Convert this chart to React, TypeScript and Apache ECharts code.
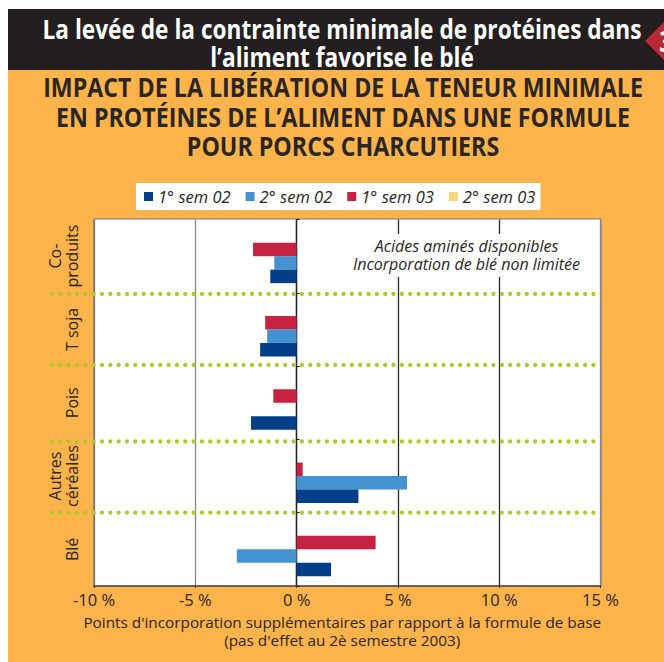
import React, { useEffect, useRef } from "react";
import * as echarts from "echarts";

const categories = ["Blé", "Autres\ncéréales", "Pois", "T soja", "Co-\nproduits"];
const sem1_02 = [1.7, 3.05, -2.25, -1.8, -1.3];
const sem2_02 = [-2.95, 5.45, 0, -1.45, -1.1];
const sem1_03 = [3.9, 0.3, -1.15, -1.55, -2.15];
const sem2_03 = [0, 0, 0, 0, 0];
const seriesNames = ["1° sem 02", "2° sem 02", "1° sem 03", "2° sem 03"];
const seriesColors = ["#023f88", "#4393d0", "#c72241", "#fdd67c"];
const separatorsY = [294, 365, 441.5, 512.7];
const headerLines = ["La levée de la contrainte minimale de protéines dans", "l’aliment favorise le blé"];
const titleLines = [
  "IMPACT DE LA LIBÉRATION DE LA TENEUR MINIMALE",
  "EN PROTÉINES DE L’ALIMENT DANS UNE FORMULE",
  "POUR PORCS CHARCUTIERS",
];
const noteLines = ["Acides aminés disponibles", "Incorporation de blé non limitée"];

const BODY = "'Open Sans', sans-serif";
const INK = "#2a2624";

export default function App() {
  const ref = useRef<HTMLDivElement>(null);
  useEffect(() => {
    const chart = echarts.init(ref.current!, undefined, { renderer: "svg" });
    const values = [sem1_02, sem2_02, sem1_03, sem2_03];
    chart.setOption({
      animation: false,
      backgroundColor: "#ffffff",
      textStyle: { fontFamily: BODY },
      legend: {
        top: 183,
        left: 136,
        padding: [5, 5, 5, 8],
        backgroundColor: "#ffffff",
        itemWidth: 9,
        itemHeight: 9,
        itemGap: 15,
        icon: "rect",
        data: seriesNames,
        textStyle: { fontFamily: BODY, fontStyle: "italic", fontSize: 16.5, color: INK },
      },
      grid: {
        left: 94,
        top: 219.5,
        width: 506.5,
        height: 366.5,
        show: true,
        backgroundColor: "#ffffff",
        borderWidth: 0,
      },
      xAxis: {
        type: "value",
        min: -10,
        max: 15,
        interval: 5,
        position: "bottom",
        axisLine: { onZero: false, show: true, lineStyle: { color: "#3a3a3a", width: 1.5 } },
        axisTick: { show: true, length: 2, lineStyle: { color: "#3a3a3a" } },
        axisLabel: { formatter: "{value} %", fontSize: 16.5, color: INK, margin: 5, fontFamily: BODY, showMinLabel: true, showMaxLabel: true },
        splitLine: { show: true, lineStyle: { width: 1.3, color: ["#777", "#888", "#222", "#2a2a2a", "#2a2a2a", "#888"] } },
        name: "Points d'incorporation supplémentaires par rapport à la formule de base\n(pas d'effet au 2è semestre 2003)",
        nameLocation: "middle",
        nameGap: 27,
        nameTextStyle: { fontSize: 15.3, lineHeight: 18, color: INK, fontFamily: BODY, verticalAlign: "top", padding: [0, 10, 0, 0] },
      },
      yAxis: [
        {
          type: "category",
          data: categories,
          position: "left",
          axisLine: { onZero: false, show: true, lineStyle: { color: "#777", width: 1.5 } },
          axisTick: { show: false },
          axisLabel: { rotate: 90, margin: 14, fontSize: 16, lineHeight: 17, color: INK, fontFamily: BODY, interval: 0 },
          splitLine: { show: false },
        },
        {
          type: "category",
          data: categories,
          axisLine: { onZero: true, show: true, lineStyle: { color: "#222", width: 1.3 } },
          axisTick: { show: true, length: 3, inside: false, lineStyle: { color: "#222" } },
          axisLabel: { show: false },
          splitLine: { show: false },
        },
      ],
      series: seriesNames.map((name, i) => ({ name, i })).reverse().map(({ name, i }) => ({
        name,
        type: "bar",
        yAxisIndex: 0,
        data: values[i],
        barWidth: 13.5,
        barGap: 0,
        itemStyle: { color: seriesColors[i] },
      })),
      graphic: [
        { type: "rect", z: -10, shape: { x: 8, y: 9, width: 656, height: 61 }, style: { fill: "#231f20" } },
        { type: "rect", z: -10, shape: { x: 8, y: 70, width: 656, height: 592 }, style: { fill: "#feb34b" } },
        { type: "rect", z: -9, shape: { x: 94, y: 218.5, width: 507, height: 1.5 }, style: { fill: "#777" } },
        { type: "polygon", z: -8, shape: { points: [[645, 41], [664, 22], [664, 60]] }, style: { fill: "#b62b35" } },
        { type: "text", z: 20, x: 659, y: 41, style: { text: "3", fill: "#ffffff", font: `bold 28px ${BODY}`, textVerticalAlign: "middle" } },
        { type: "rect", z: -8, shape: { x: 600.5, y: 219.5, width: 1.2, height: 366.5 }, style: { fill: "#888" } },
        { type: "rect", z: 15, shape: { x: 350, y: 234, width: 233, height: 43 }, style: { fill: "#ffffff" } },
        ...headerLines.map((text, i) => ({
          type: "text", z: 20, x: 342, y: 28 + i * 28.5, scaleX: 0.84,
          style: { text, fill: "#ffffff", font: `bold 27px ${BODY}`, textAlign: "center", textVerticalAlign: "middle" },
        })),
        ...titleLines.map((text, i) => ({
          type: "text", z: 20, x: 343, y: 86.5 + i * 29.5, scaleX: 0.86,
          style: { text, fill: INK, font: `bold 27px ${BODY}`, textAlign: "center", textVerticalAlign: "middle" },
        })),
        ...noteLines.map((text, i) => ({
          type: "text", z: 20, x: 466.5, y: 246 + i * 18,
          style: { text, fill: INK, font: `italic 16px/18px ${BODY}`, textAlign: "center", textVerticalAlign: "middle" },
        })),
        ...separatorsY.map((y) => ({
          type: "line", z: 30,
          shape: { x1: 52, y1: y, x2: 598, y2: y },
          style: { stroke: "#afc92c", lineWidth: 4.3, lineCap: "round", lineDash: [0, 8.33] },
        })),
      ],
    });
    return () => chart.dispose();
  }, []);
  return <div ref={ref} style={{ position: "fixed", left: 0, top: 0, width: 664, height: 662 }} />;
}
